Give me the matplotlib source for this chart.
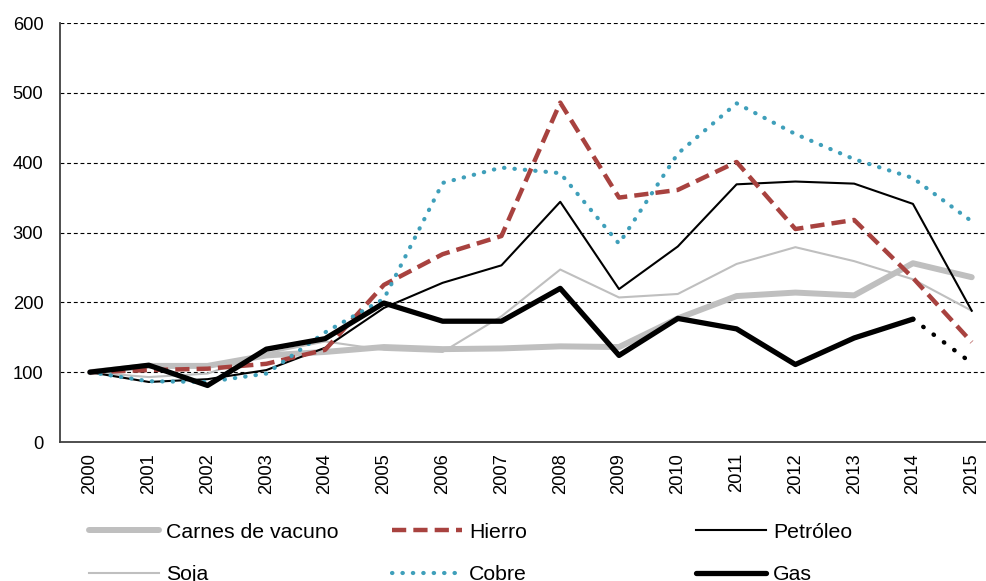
import matplotlib; matplotlib.use('Agg')
import matplotlib.pyplot as plt

plt.rcParams['font.family'] = ['Liberation Sans', 'DejaVu Sans']

years = [str(y) for y in range(2000, 2016)]
carnes   = [100, 109, 109, 124, 129, 136, 133, 134, 137, 136, 177, 209, 214, 210, 256, 236]
hierro   = [100, 103, 105, 112, 132, 225, 269, 295, 486, 350, 361, 401, 305, 318, 235, 143]
petroleo = [100, 86, 90, 103, 135, 192, 228, 253, 344, 219, 280, 369, 373, 370, 341, 188]
soja     = [100, 93, 98, 127, 144, 132, 129, 180, 247, 207, 212, 255, 279, 259, 233, 188]
cobre    = [100, 87, 86, 98, 157, 205, 371, 393, 385, 284, 413, 485, 441, 405, 378, 316]
gas      = [100, 110, 81, 133, 148, 199, 173, 173, 220, 124, 177, 162, 111, 149, 176]
gas_2015 = 113   # projected, drawn dotted

RED = '#A8423F'; TEAL = '#3F9FBA'; GREY = '#BFBFBF'

fig = plt.figure(figsize=(9.87, 5.81), dpi=100)
ax = fig.add_axes([0.0608, 0.2392, 0.9392, 0.7212])
x = list(range(len(years)))

ax.plot(x, carnes, color=GREY, lw=4.3, solid_capstyle='round', label='Carnes de vacuno')
ax.plot(x, soja, color=GREY, lw=1.5, label='Soja')
ax.plot(x, petroleo, color='black', lw=1.5, label='Petróleo')
ax.plot(x, hierro, color=RED, lw=3.2, dashes=(3.2, 1.6), label='Hierro')
ax.plot(x, cobre, color=TEAL, lw=3.0, linestyle=(0, (0.1, 2.4)),
        dash_capstyle='round', label='Cobre')
ax.plot(x[:len(gas)], gas, color='black', lw=3.8, solid_capstyle='round', label='Gas')
ax.plot([x[len(gas) - 1], x[-1]], [gas[-1], gas_2015], color='black', lw=3.2,
        linestyle=(0, (0.1, 2.8)), dash_capstyle='round')

ax.set_ylim(0, 600)
ax.set_xlim(-0.51, 15.26)
ax.set_yticks(range(0, 601, 100))
ax.set_xticks(x)
ax.set_xticklabels(years, rotation=90)
ax.tick_params(length=0, labelsize=13.2, pad=8)
ax.tick_params(axis='y', pad=12)
for yv in range(100, 601, 100):
    ax.axhline(yv, color='black', lw=0.8, dashes=(3.5, 2.5), zorder=0)
for s in ['top', 'right']:
    ax.spines[s].set_visible(False)
for s in ['left', 'bottom']:
    ax.spines[s].set_color('#404040')
    ax.spines[s].set_linewidth(1.3)

# legend: three separate two-row columns to match the uneven column spacing
h = {l.get_label(): l for l in ax.get_lines()}
cols = [(['Carnes de vacuno', 'Soja'], 0.090),
        (['Hierro', 'Cobre'], 0.397),
        (['Petróleo', 'Gas'], 0.705)]
for names, xpos in cols:
    fig.legend([h[n] for n in names], names, loc='upper left',
               bbox_to_anchor=(xpos, 0.100), frameon=False, fontsize=15.3,
               handlelength=3.3, handletextpad=0.33, labelspacing=1.1,
               borderaxespad=0, borderpad=0)

fig.savefig('out.png', dpi=100)
